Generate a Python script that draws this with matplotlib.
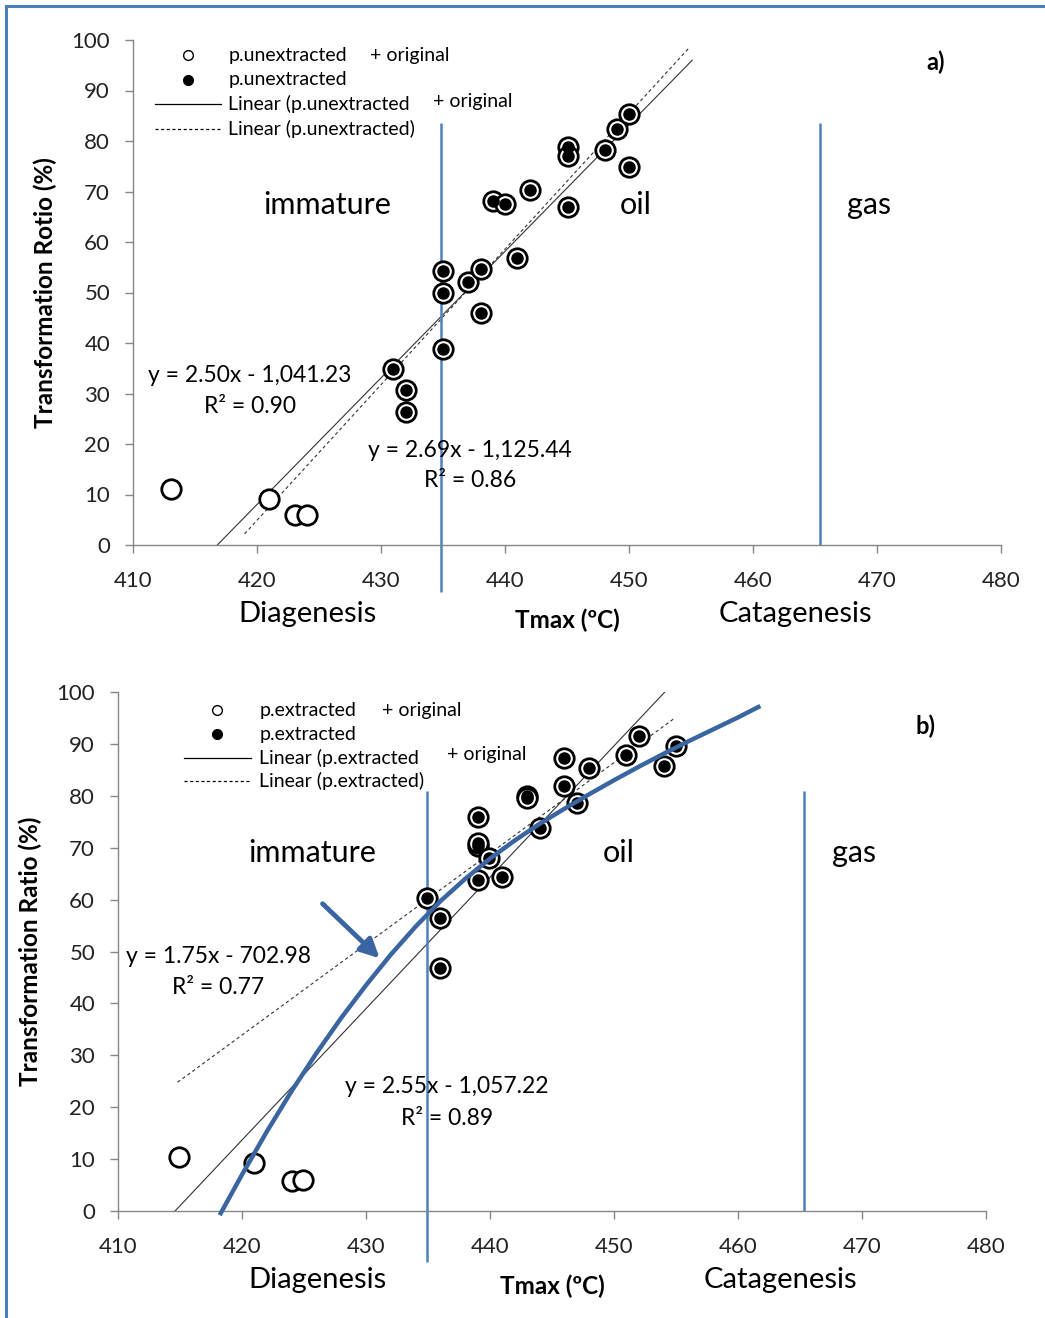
import matplotlib.pyplot as plt
from matplotlib.lines import Line2D

plt.rcParams["font.family"] = ["Lato", "DejaVu Sans"]

# ---- panel a: p.unextracted ----
a_open_T = [413.1, 421.0, 423.1, 424.0]
a_open_R = [11.1, 9.1, 5.9, 5.9]
a_fill_T = [431.0, 432.0, 432.0, 435.0, 435.0, 435.0, 437.0, 438.1, 438.1, 439.0,
            440.0, 441.0, 442.0, 445.1, 445.1, 445.1, 448.1, 449.0, 450.0, 450.0]
a_fill_R = [34.9, 30.7, 26.3, 38.8, 49.9, 54.3, 52.1, 54.7, 45.9, 68.1,
            67.5, 56.8, 70.3, 78.8, 77.0, 66.9, 78.2, 82.4, 85.3, 74.9]
a_fit_all_T = [416.8, 455.1]
a_fit_all_R = [0.0, 96.0]
a_fit_T = [419.0, 454.9]
a_fit_R = [2.2, 98.6]
a_eq_all = ["y = 2.50x - 1,041.23", "R² = 0.90"]
a_eq = ["y = 2.69x - 1,125.44", "R² = 0.86"]
a_bounds = [434.8, 465.4]

# ---- panel b: p.extracted ----
b_open_T = [414.9, 421.0, 424.0, 424.9]
b_open_R = [10.4, 9.2, 5.8, 6.0]
b_fill_T = [434.9, 436.0, 436.0, 439.0, 439.0, 439.0, 439.9, 439.0, 441.0, 443.0,
            443.0, 444.0, 446.0, 446.0, 447.0, 448.0, 451.0, 452.0, 454.0, 455.0]
b_fill_R = [60.4, 56.5, 46.9, 76.0, 70.4, 70.9, 68.1, 63.7, 64.4, 80.0,
            79.6, 73.8, 87.3, 81.9, 78.7, 85.4, 87.9, 91.5, 85.8, 89.6]
b_fit_all_T = [414.6, 454.1]
b_fit_all_R = [0.0, 100.0]
b_fit_T = [414.8, 454.8]
b_fit_R = [24.8, 94.8]
b_eq_all = ["y = 2.55x - 1,057.22", "R² = 0.89"]
b_eq = ["y = 1.75x - 702.98", "R² = 0.77"]
b_bounds = [434.9, 465.3]
# hand-drawn blue curve
curve_T = [418.2, 420.0, 422.0, 424.0, 426.0, 428.0, 430.0, 432.0, 434.0, 436.0,
           438.0, 440.0, 442.0, 444.0, 446.0, 448.0, 450.0, 452.0, 454.0, 456.0,
           458.0, 460.0, 461.8]
curve_R = [-0.8, 7.0, 15.3, 23.1, 30.4, 37.2, 43.5, 49.4, 54.8, 59.7,
           64.0, 67.9, 71.4, 74.6, 77.5, 80.3, 83.0, 85.6, 88.1, 90.5,
           92.8, 95.1, 97.3]
arrow_from = (426.5, 59.2)
arrow_to = (431.1, 48.7)

xticks = [410, 420, 430, 440, 450, 460, 470, 480]
yticks = [0, 10, 20, 30, 40, 50, 60, 70, 80, 90, 100]

BLUE = "#4F81BD"
DARKBLUE = "#3A65A0"
GRAY = "#868686"

W, H = 1045, 1318
fig = plt.figure(figsize=(W / 100, H / 100), dpi=100)


def px_axes(left, top, right, bottom):
    return fig.add_axes([left / W, 1 - bottom / H, (right - left) / W, (bottom - top) / H])


def style(ax, ylabel):
    ax.set_xlim(410, 480)
    ax.set_ylim(0, 100)
    ax.set_xticks(xticks)
    ax.set_yticks(yticks)
    for s in ("top", "right"):
        ax.spines[s].set_visible(False)
    for s in ("left", "bottom"):
        ax.spines[s].set_color(GRAY)
        ax.spines[s].set_linewidth(1)
    ax.tick_params(direction="out", length=6, width=1, color=GRAY,
                   labelsize=16, labelcolor="#222222", pad=10.5)
    ax.tick_params(axis="x", pad=12.5)
    ax.text(-0.101, 0.5, ylabel, transform=ax.transAxes, rotation=90,
            ha="center", va="center", fontsize=17.5, fontweight="bold")


def draw_panel(ax, open_T, open_R, fill_T, fill_R, fit_all, fit, bounds, vtop, vbottom):
    ax.plot(fit_all[0], fit_all[1], color="#333333", lw=0.8)
    ax.plot(fit[0], fit[1], color="#333333", lw=0.8, ls=(0, (3, 2.5)))
    ax.vlines(bounds[0], vbottom, vtop, color=BLUE, lw=1.8, clip_on=False, zorder=2)
    ax.vlines(bounds[1], 0, vtop, color=BLUE, lw=1.8, zorder=2)
    allT = list(open_T) + list(fill_T)
    allR = list(open_R) + list(fill_R)
    ax.plot(allT, allR, ls="none", marker="o", ms=14, mfc="white", mec="black",
            mew=2.0, zorder=4)
    ax.plot(fill_T, fill_R, ls="none", marker="o", ms=8, mfc="black", mec="black",
            zorder=5)


def legend(ax, x_mark, x_line0, x_line1, x_text, ys, name, x_orig1, x_orig2):
    ax.plot([x_mark], [ys[0]], marker="o", ms=7, mfc="white", mec="black", mew=1,
            clip_on=False)
    ax.plot([x_mark], [ys[1]], marker="o", ms=7, mfc="black", mec="black",
            clip_on=False)
    ax.plot([x_line0, x_line1], [ys[2], ys[2]], color="black", lw=0.9, clip_on=False)
    ax.plot([x_line0, x_line1], [ys[3], ys[3]], color="black", lw=0.9,
            ls=(0, (2.5, 2)), clip_on=False)
    fs = 14
    ax.text(x_text, ys[0], name, fontsize=fs, va="center")
    ax.text(x_orig1, ys[0], "+ original", fontsize=fs, va="center")
    ax.text(x_text, ys[1], name, fontsize=fs, va="center")
    ax.text(x_text, ys[2], "Linear (" + name, fontsize=fs, va="center")
    ax.text(x_orig2, ys[2] + 0.6, "+ original", fontsize=fs, va="center")
    ax.text(x_text, ys[3], "Linear (" + name + ")", fontsize=fs, va="center")


def labels(ax, stage_y, bottom_y, tmax_y, letter, letter_pos, xs):
    ax.text(xs[0], stage_y, "immature", fontsize=22, ha="center", va="center")
    ax.text(xs[1], stage_y, "oil", fontsize=22, ha="center", va="center")
    ax.text(xs[2], stage_y, "gas", fontsize=22, ha="center", va="center")
    ax.text(letter_pos[0], letter_pos[1], letter, fontsize=17, fontweight="bold",
            ha="center", va="center")
    ax.text(xs[3], bottom_y, "Diagenesis", fontsize=21, ha="center", va="center")
    ax.text(445.0, tmax_y, "Tmax (ºC)", fontsize=17.5, fontweight="bold",
            ha="center", va="center")
    ax.text(463.4, bottom_y, "Catagenesis", fontsize=21, ha="center", va="center")


def equations(ax, eq1, pos1, eq2, pos2):
    for eq, pos in ((eq1, pos1), (eq2, pos2)):
        ax.text(pos[0], pos[1], eq[0], fontsize=16.5, ha="center", va="center")
        ax.text(pos[0], pos[1] - 6.1, eq[1], fontsize=16.5, ha="center", va="center")


# panel a
ax1 = px_axes(133, 40, 1001, 545)
style(ax1, "Transformation Rotio (%)")
draw_panel(ax1, a_open_T, a_open_R, a_fill_T, a_fill_R,
           (a_fit_all_T, a_fit_all_R), (a_fit_T, a_fit_R), a_bounds, 83.6, -9.3)
equations(ax1, a_eq_all, (419.4, 33.5), a_eq, (437.2, 18.8))
legend(ax1, 414.4, 411.8, 417.1, 417.7, [97.0, 92.1, 87.3, 82.4],
       "p.unextracted", 429.1, 434.2)
labels(ax1, 67.3, -13.7, -14.9, "a)", (474.7, 95.6), [425.7, 450.5, 469.4, 424.1])

# panel b
ax2 = px_axes(118, 692, 986, 1211)
style(ax2, "Transformation Ratio (%)")
draw_panel(ax2, b_open_T, b_open_R, b_fill_T, b_fill_R,
           (b_fit_all_T, b_fit_all_R), (b_fit_T, b_fit_R), b_bounds, 81.0, -9.8)
ax2.plot(curve_T, curve_R, color=DARKBLUE, lw=3.2, solid_capstyle="butt",
         solid_joinstyle="round", clip_on=False, zorder=6)
ax2.annotate("", xy=arrow_to, xytext=arrow_from,
             arrowprops=dict(arrowstyle="-|>", color=DARKBLUE, lw=3.5,
                             mutation_scale=28, shrinkA=0, shrinkB=0), zorder=6)
equations(ax2, b_eq, (418.1, 49.1), b_eq_all, (436.5, 23.9))
legend(ax2, 418.0, 415.3, 420.7, 421.4, [96.5, 91.9, 87.3, 82.9],
       "p.extracted", 431.3, 436.5)
labels(ax2, 69.0, -13.3, -14.5, "b)", (475.1, 93.3), [425.7, 450.4, 469.4, 426.1])

# outer border (top and left)
fig.add_artist(Line2D([6 / W, 1], [1 - 6 / H, 1 - 6 / H], color="#4A7EBB", lw=2.2))
fig.add_artist(Line2D([6 / W, 6 / W], [0, 1 - 6 / H], color="#4A7EBB", lw=2.2))

fig.savefig("out.png", dpi=100)
